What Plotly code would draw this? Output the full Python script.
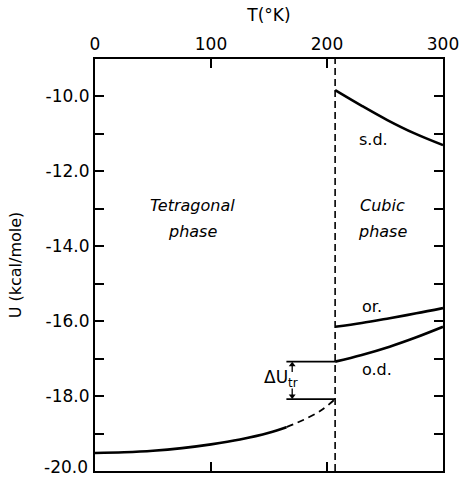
import plotly.graph_objects as go

# ---- data ----
T_tr = 207
tet_T = [0, 25, 50, 75, 100, 125, 150, 165]
tet_U = [-19.52, -19.50, -19.46, -19.39, -19.29, -19.16, -18.98, -18.83]
tet_ext_T = [165, 180, 195, 207]
tet_ext_U = [-18.83, -18.63, -18.38, -18.08]
sd_T = [207, 230, 252, 275, 300]
sd_U = [-9.83, -10.25, -10.63, -10.98, -11.30]
or_T = [207, 230, 254, 277, 300]
or_U = [-16.15, -16.05, -15.92, -15.79, -15.65]
od_T = [207, 230, 254, 277, 300]
od_U = [-17.08, -16.90, -16.68, -16.43, -16.15]
x_ticks = [0, 100, 200, 300]
x_ticklabels = ["0", "100", "200", "300"]
y_ticks = [-20, -18, -16, -14, -12, -10]
y_ticklabels = ["-20.0", "-18.0", "-16.0", "-14.0", "-12.0", "-10.0"]
y_minor_ticks = [-19, -17, -15, -13, -11]
dU_top = od_U[0]
dU_bot = tet_ext_U[-1]
dU_left = 165
dU_arrow_T = 170
dU_arrow_len = 0.28

FONT = "DejaVu Sans"
fig = go.Figure()
lw = 2.6
fig.add_trace(go.Scatter(x=tet_T, y=tet_U, mode="lines", line=dict(color="black", width=lw, shape="spline")))
fig.add_trace(go.Scatter(x=tet_ext_T, y=tet_ext_U, mode="lines", line=dict(color="black", width=1.8, dash="7px,5px", shape="spline")))
for xs, ys in [(sd_T, sd_U), (or_T, or_U), (od_T, od_U)]:
    fig.add_trace(go.Scatter(x=xs, y=ys, mode="lines", line=dict(color="black", width=lw, shape="spline")))

# transition dashed line
fig.add_trace(go.Scatter(x=[T_tr, T_tr], y=[-20, -9], mode="lines", line=dict(color="black", width=1.6, dash="7px,4px")))
# delta U horizontal lines
fig.add_trace(go.Scatter(x=[dU_left, T_tr], y=[dU_top, dU_top], mode="lines", line=dict(color="black", width=1.6)))
fig.add_trace(go.Scatter(x=[dU_left, T_tr], y=[dU_bot, dU_bot], mode="lines", line=dict(color="black", width=1.6)))
# arrows (stems + heads)
fig.add_trace(go.Scatter(x=[dU_arrow_T, dU_arrow_T], y=[dU_top - dU_arrow_len, dU_top - 0.08], mode="lines",
                         line=dict(color="black", width=1.3)))
fig.add_trace(go.Scatter(x=[dU_arrow_T, dU_arrow_T], y=[dU_bot + dU_arrow_len, dU_bot + 0.08], mode="lines",
                         line=dict(color="black", width=1.3)))
fig.add_trace(go.Scatter(x=[dU_arrow_T], y=[dU_top - 0.08], mode="markers",
                         marker=dict(symbol="triangle-up", size=6, color="black")))
fig.add_trace(go.Scatter(x=[dU_arrow_T], y=[dU_bot + 0.08], mode="markers",
                         marker=dict(symbol="triangle-down", size=6, color="black")))

ann = []
ann.append(dict(x=160, y=-17.52, xref="x", yref="y", text="ΔU<sub>tr</sub>", showarrow=False,
                font=dict(size=17, family=FONT, color="black")))

def txt(x, y, s, italic=False, size=16):
    style = "<i>%s</i>" % s if italic else s
    ann.append(dict(x=x, y=y, xref="x", yref="y", text=style, showarrow=False,
                    font=dict(size=size, family=FONT, color="black")))

txt(84, -12.9, "Tetragonal", True)
txt(84, -13.6, "phase", True)
txt(248, -12.9, "Cubic", True)
txt(248, -13.6, "phase", True)
txt(240, -11.15, "s.d.")
txt(239, -15.6, "or.")
txt(243, -17.3, "o.d.")

# bottom-most y label drawn slightly raised so it stays inside the page
ann.append(dict(x=0, y=y_ticks[0], xref="paper", yref="y", xshift=-5, yshift=-8,
                xanchor="right", yanchor="bottom", text=y_ticklabels[0], showarrow=False,
                font=dict(size=17, family=FONT, color="black")))

tickstyle = dict(ticks="inside", ticklen=9, tickwidth=1.5, tickcolor="black")
fig.update_layout(
    width=461, height=479,
    margin=dict(l=95, r=18, t=59, b=8, autoexpand=False),
    paper_bgcolor="white", plot_bgcolor="white",
    showlegend=False,
    annotations=ann,
    xaxis=dict(range=[0, 300], side="top", tickvals=x_ticks, ticktext=x_ticklabels,
               title=dict(text="T(°K)", standoff=8, font=dict(size=17, family=FONT, color="black")),
               showline=True, linecolor="black", linewidth=2, mirror="ticks",
               showgrid=False, zeroline=False, automargin=False, ticklabeloverflow="allow",
               tickfont=dict(size=17, family=FONT, color="black"), **tickstyle),
    yaxis=dict(range=[-20, -9], tickvals=y_ticks[1:], ticktext=y_ticklabels[1:],
               title=dict(text="U (kcal/mole)", standoff=20, font=dict(size=16, family=FONT, color="black")),
               minor=dict(tickvals=y_minor_ticks, **tickstyle, showgrid=False),
               showline=True, linecolor="black", linewidth=2, mirror="ticks",
               showgrid=False, zeroline=False, automargin=False, ticklabeloverflow="allow",
               tickfont=dict(size=17, family=FONT, color="black"), **tickstyle),
)
fig.write_html("out.html")
